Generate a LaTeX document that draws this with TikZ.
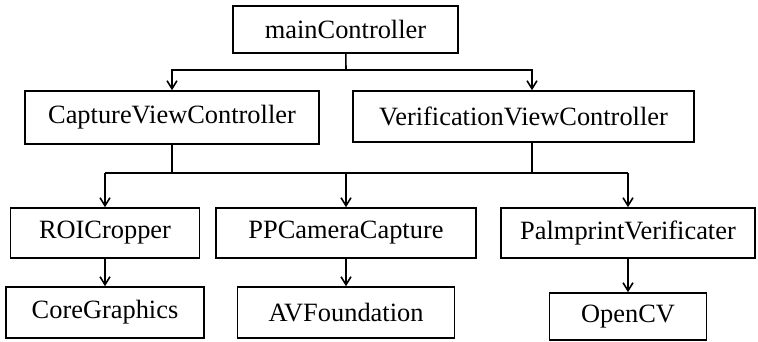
\documentclass[tikz,border=0pt]{standalone}
\usepackage{fontspec}
\setmainfont{Liberation Serif}
\usetikzlibrary{arrows.meta}
\begin{document}
\begin{tikzpicture}[x=1pt, y=1pt, line width=1.6pt, >={Straight Barb[length=8pt,width=10pt]},
    box/.style={draw, inner sep=0pt, minimum height=50pt, font=\fontsize{26.4}{30}\selectfont}]
\useasboundingbox (0,0) rectangle (758,-342);
% boxes
\node[box, minimum width=225pt, minimum height=47pt] (main) at (345.5,-29.5) {mainController};
\node[box, minimum width=294pt, minimum height=53pt] (cap) at (172,-117.5) {CaptureViewController};
\node[box, minimum width=341pt, minimum height=51pt] (ver) at (523.5,-116.5) {VerificationViewController};
\node[box, minimum width=189pt] (roi) at (105,-233) {ROICropper};
\node[box, minimum width=260pt] (ppc) at (346,-233) {PPCameraCapture};
\node[box, minimum width=254pt] (palm) at (628,-233) {PalmprintVerificater};
\node[box, minimum width=198pt, minimum height=51pt] (core) at (105,-312.5) {CoreGraphics};
\node[box, minimum width=217pt, minimum height=51pt] (av) at (346,-312.5) {AVFoundation};
\node[box, minimum width=157pt, minimum height=47pt] (ocv) at (628,-316.5) {OpenCV};
% buses
\coordinate (b1) at (346,-70);
\coordinate (b2l) at (105,-173);
\coordinate (b2r) at (628,-173);
\coordinate (vs) at ([xshift=8.5pt]ver.south);
\draw (main) -- (b1);
\draw[->] (b1) -| (cap);
\draw[->] (b1) -| ([xshift=8.5pt]ver.north);
\draw (b2l) -- (b2r);
\draw (cap.south) -- (cap.south |- b2l);
\draw (vs) -- (vs |- b2r);
\draw[->] (b2l) -- (roi);
\draw[->] (b2l -| ppc) -- (ppc);
\draw[->] (b2r) -- (palm);
\draw[->] (roi) -- (core);
\draw[->] (ppc) -- (av);
\draw[->] (palm) -- (ocv);
\end{tikzpicture}
\end{document}
